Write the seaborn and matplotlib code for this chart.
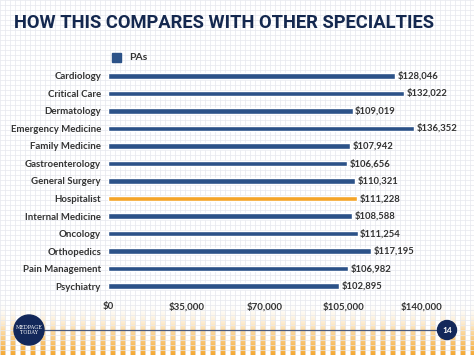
import numpy as np
import pandas as pd
import matplotlib
matplotlib.use("Agg")
import matplotlib.pyplot as plt
import seaborn as sns
from matplotlib.patches import Circle

specialties = ["Cardiology", "Critical Care", "Dermatology", "Emergency Medicine",
               "Family Medicine", "Gastroenterology", "General Surgery", "Hospitalist",
               "Internal Medicine", "Oncology", "Orthopedics", "Pain Management", "Psychiatry"]
salaries = [128046, 132022, 109019, 136352, 107942, 106656, 110321,
            111228, 108588, 111254, 117195, 106982, 102895]
highlight = "Hospitalist"
xticks = [0, 35000, 70000, 105000, 140000]

navy = "#2c5288"
orange = "#f5a52a"
title_col = "#14284f"
text_col = "#333333"

data = pd.DataFrame({"specialty": specialties, "salary": salaries})
data["group"] = np.where(data["specialty"] == highlight, "hl", "PAs")

sns.set_theme(style="white")
plt.rcParams["font.family"] = ["Lato", "DejaVu Sans"]

fig = plt.figure(figsize=(4.74, 3.55), dpi=100)
W, H = 474, 355

# background: faint grid + orange stripes at the bottom
bg = fig.add_axes([0, 0, 1, 1], zorder=0)
bg.set_xlim(0, W)
bg.set_ylim(H, 0)
bg.axis("off")
for gx in np.arange(0, W, 5):
    bg.plot([gx, gx], [0, H], color="#e6e8ee", lw=0.5)
for gy in np.arange(0, H, 5):
    bg.plot([0, W], [gy, gy], color="#e6e8ee", lw=0.5)
bg.add_patch(plt.Rectangle((0, 42), W, 258, color="white", alpha=0.93, lw=0))
bg.add_patch(plt.Rectangle((0, 0), W, 42, color="white", alpha=0.35, lw=0))
grad = np.linspace(0, 1, 60)[:, None] ** 1.3 * np.ones((1, W))
stripe = (np.arange(W) % 10) < 6
grad = grad * stripe[None, :]
cmap = matplotlib.colors.LinearSegmentedColormap.from_list("o", ["#ffffff00", "#fcd9a0", orange])
bg.imshow(grad, extent=(0, W, H, H - 60), cmap=cmap, aspect="auto", zorder=1, alpha=0.95)
bg.plot([29, 447], [330, 330], color="#4a5a80", lw=0.9, zorder=2)
bg.add_patch(Circle((29, 330), 15, color="#13285a", zorder=3))
bg.text(29, 330, "MEDPAGE\nTODAY", color="white", fontsize=3.6, ha="center", va="center",
        family="DejaVu Serif", linespacing=0.9, zorder=4)
bg.add_patch(Circle((447, 330), 9.5, color="#13285a", zorder=3))
bg.text(447, 330.5, "14", color="white", fontsize=6, weight="bold", ha="center", va="center", zorder=4)

fig.text(14 / W, 1 - 23 / H, "HOW THIS COMPARES WITH OTHER SPECIALTIES", color=title_col,
         fontsize=13.2, weight="bold", ha="left", va="center", family=["Roboto"])

ax = fig.add_axes([108 / W, 1 - 295 / H, (422 - 108) / W, (295 - 67) / H], zorder=2)
ax.patch.set_alpha(0)
sns.barplot(data=data, x="salary", y="specialty", hue="group",
            palette={"PAs": navy, "hl": orange}, width=0.32, dodge=False,
            legend=False, ax=ax, saturation=1)
ax.set_xlim(0, 140000)
ax.set_xticks(xticks)
ax.set_xticklabels([f"${v:,}" for v in xticks], color=text_col, fontsize=7, weight="bold")
ax.tick_params(axis="x", length=0, pad=5)
ax.tick_params(axis="y", length=0, pad=5)
for lab in ax.get_yticklabels():
    lab.set_fontsize(6.9)
    lab.set_weight("bold")
    lab.set_color(text_col)
ax.set_xlabel("")
ax.set_ylabel("")
sns.despine(ax=ax, left=True, bottom=True)
for i, v in enumerate(salaries):
    ax.text(v + 1200, i, f"${v:,}", va="center", ha="left", fontsize=6.8,
            color=text_col, weight="bold")

# legend
fig.patches.append(plt.Rectangle((112 / W, 1 - 62 / H), 9 / W, 9 / H, color=navy,
                                 transform=fig.transFigure, figure=fig))
fig.text(129 / W, 1 - 57.5 / H, "PAs", fontsize=7.5, weight="bold", color=text_col, va="center")

fig.savefig("out.png", dpi=100)
